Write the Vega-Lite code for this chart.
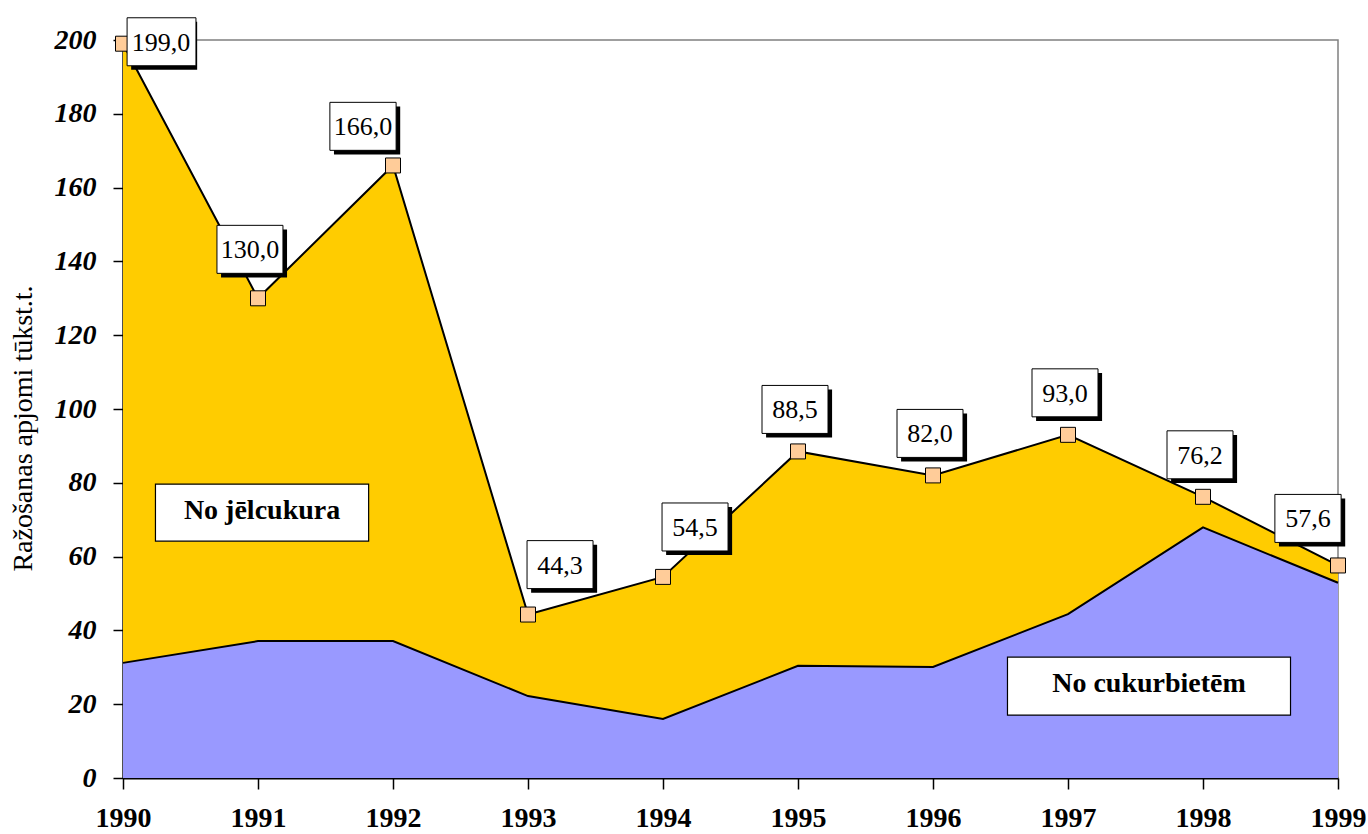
{
  "$schema": "https://vega.github.io/schema/vega-lite/v6.json",
  "width": 1215,
  "height": 738,
  "autosize": {"type": "none"},
  "padding": {"left": 123, "top": 40, "right": 30, "bottom": 56},
  "background": "white",
  "config": {
    "view": {"stroke": "#808080", "strokeWidth": 1.5},
    "font": "'Times New Roman', 'Liberation Serif', Tinos, 'DejaVu Serif', serif"
  },
  "datasets": {
    "main": [
      {"year": 1990, "total": 199.0, "beet": 31.2, "label": "199,0"},
      {"year": 1991, "total": 130.0, "beet": 37.1, "label": "130,0"},
      {"year": 1992, "total": 166.0, "beet": 37.1, "label": "166,0"},
      {"year": 1993, "total": 44.3, "beet": 22.2, "label": "44,3"},
      {"year": 1994, "total": 54.5, "beet": 16.0, "label": "54,5"},
      {"year": 1995, "total": 88.5, "beet": 30.4, "label": "88,5"},
      {"year": 1996, "total": 82.0, "beet": 30.1, "label": "82,0"},
      {"year": 1997, "total": 93.0, "beet": 44.4, "label": "93,0"},
      {"year": 1998, "total": 76.2, "beet": 67.9, "label": "76,2"},
      {"year": 1999, "total": 57.6, "beet": 52.9, "label": "57,6"}
    ],
    "notes": [
      {"year": 1991.03, "value": 71.9, "text": "No jēlcukura"},
      {"year": 1997.6, "value": 24.9, "text": "No cukurbietēm"}
    ]
  },
  "data": {"name": "main"},
  "encoding": {
    "x": {
      "field": "year", "type": "quantitative",
      "scale": {"domain": [1990, 1999], "nice": false, "zero": false},
      "axis": {
        "title": null, "values": [1990,1991,1992,1993,1994,1995,1996,1997,1998,1999],
        "format": "d", "grid": false,
        "domainColor": "black", "domainWidth": 2,
        "tickColor": "black", "tickWidth": 1.5, "tickSize": 11,
        "labelFont": "'Times New Roman', 'Liberation Serif', Tinos, 'DejaVu Serif', serif", "labelFontWeight": "bold", "labelFontSize": 28,
        "labelColor": "black", "labelPadding": 15, "labelFlush": false
      }
    }
  },
  "layer": [
    {
      "mark": {"type": "area", "color": "#FFCC00", "opacity": 1},
      "encoding": {
        "y": {
          "field": "total", "type": "quantitative",
          "scale": {"domain": [0, 200], "nice": false},
          "axis": {
            "title": "Ražošanas apjomi tūkst.t.",
            "titleFont": "'Times New Roman', 'Liberation Serif', Tinos, 'DejaVu Serif', serif", "titleFontWeight": "normal", "titleFontSize": 28,
            "titleColor": "black", "titlePadding": 17, "titleY": 388,
            "values": [0,20,40,60,80,100,120,140,160,180,200],
            "grid": false,
            "domainColor": "black", "domainWidth": 2,
            "tickColor": "black", "tickWidth": 1.5, "tickSize": 10,
            "labelFont": "'Times New Roman', 'Liberation Serif', Tinos, 'DejaVu Serif', serif", "labelFontWeight": "bold", "labelFontStyle": "italic",
            "labelFontSize": 28, "labelColor": "black", "labelPadding": 17
          }
        }
      }
    },
    {
      "mark": {"type": "area", "color": "#9999FF", "opacity": 1},
      "encoding": {"y": {"field": "beet", "type": "quantitative"}}
    },
    {
      "mark": {"type": "line", "color": "black", "strokeWidth": 2},
      "encoding": {"y": {"field": "total", "type": "quantitative"}}
    },
    {
      "mark": {"type": "line", "color": "black", "strokeWidth": 2},
      "encoding": {"y": {"field": "beet", "type": "quantitative"}}
    },
    {
      "mark": {"type": "point", "shape": "square", "size": 225, "filled": true, "fill": "#FFCC99", "stroke": "black", "strokeWidth": 1, "opacity": 1},
      "encoding": {"y": {"field": "total", "type": "quantitative"}}
    },
    {
      "data": {"name": "notes"},
      "encoding": {
        "x": {"field": "year", "type": "quantitative"},
        "y": {"field": "value", "type": "quantitative"}
      },
      "layer": [
        {
          "transform": [{"filter": "datum.text === 'No jēlcukura'"}],
          "mark": {"type": "point", "shape": "M-3.74,-1H3.74V1H-3.74Z", "size": 3249, "filled": true, "fill": "white", "stroke": "black", "strokeWidth": 1.2, "opacity": 1}
        },
        {
          "transform": [{"filter": "datum.text === 'No cukurbietēm'"}],
          "mark": {"type": "point", "shape": "M-4.88,-1H4.88V1H-4.88Z", "size": 3364, "filled": true, "fill": "white", "stroke": "black", "strokeWidth": 1.2, "opacity": 1}
        },
        {
          "mark": {"type": "text", "fontWeight": "bold", "fontSize": 28, "color": "black", "align": "center", "baseline": "middle", "dy": -2},
          "encoding": {"text": {"field": "text"}}
        }
      ]
    },
    {
      "transform": [{"filter": "datum.year === 1990"}],
      "encoding": {"y": {"field": "total", "type": "quantitative"}},
      "layer": [
        {"mark": {"type": "point", "shape": "M0.34,-0.91H3.09V1.09H0.34Z", "size": 2304, "filled": true, "fill": "black", "strokeWidth": 0, "opacity": 1}},
        {"mark": {"type": "point", "shape": "M0.17,-1.08H3.04V0.92H0.17Z", "size": 2304, "filled": true, "fill": "white", "stroke": "black", "strokeWidth": 1, "opacity": 1}},
        {"mark": {"type": "text", "fontSize": 26, "color": "black", "align": "center", "baseline": "middle", "dx": 38, "dy": -1}, "encoding": {"text": {"field": "label"}}}
      ]
    },
    {
      "transform": [{"filter": "datum.year === 1993 || datum.year === 1994"}],
      "encoding": {"y": {"field": "total", "type": "quantitative"}},
      "layer": [
        {"mark": {"type": "point", "shape": "M0.13,-2.91H2.88V-0.91H0.13Z", "size": 2304, "filled": true, "fill": "black", "strokeWidth": 0, "opacity": 1}},
        {"mark": {"type": "point", "shape": "M-0.04,-3.08H2.71V-1.08H-0.04Z", "size": 2304, "filled": true, "fill": "white", "stroke": "black", "strokeWidth": 1, "opacity": 1}},
        {"mark": {"type": "text", "fontSize": 26, "color": "black", "align": "center", "baseline": "middle", "dx": 32, "dy": -49}, "encoding": {"text": {"field": "label"}}}
      ]
    },
    {
      "transform": [{"filter": "datum.year === 1991"}],
      "encoding": {"y": {"field": "total", "type": "quantitative"}},
      "layer": [
        {"mark": {"type": "point", "shape": "M-1.54,-2.87H1.21V-0.87H-1.54Z", "size": 2304, "filled": true, "fill": "black", "strokeWidth": 0, "opacity": 1}},
        {"mark": {"type": "point", "shape": "M-1.71,-3.04H1.04V-1.04H-1.71Z", "size": 2304, "filled": true, "fill": "white", "stroke": "black", "strokeWidth": 1, "opacity": 1}},
        {"mark": {"type": "text", "fontSize": 26, "color": "black", "align": "center", "baseline": "middle", "dx": -8, "dy": -48}, "encoding": {"text": {"field": "label"}}}
      ]
    },
    {
      "transform": [{"filter": "datum.year === 1992"}],
      "encoding": {"y": {"field": "total", "type": "quantitative"}},
      "layer": [
        {"mark": {"type": "point", "shape": "M-2.46,-2.46H0.3V-0.46H-2.46Z", "size": 2304, "filled": true, "fill": "black", "strokeWidth": 0, "opacity": 1}},
        {"mark": {"type": "point", "shape": "M-2.63,-2.63H0.13V-0.63H-2.63Z", "size": 2304, "filled": true, "fill": "white", "stroke": "black", "strokeWidth": 1, "opacity": 1}},
        {"mark": {"type": "text", "fontSize": 26, "color": "black", "align": "center", "baseline": "middle", "dx": -30, "dy": -38}, "encoding": {"text": {"field": "label"}}}
      ]
    },
    {
      "transform": [{"filter": "datum.year >= 1995 && datum.year <= 1998"}],
      "encoding": {"y": {"field": "total", "type": "quantitative"}},
      "layer": [
        {"mark": {"type": "point", "shape": "M-1.33,-2.58H1.42V-0.58H-1.33Z", "size": 2304, "filled": true, "fill": "black", "strokeWidth": 0, "opacity": 1}},
        {"mark": {"type": "point", "shape": "M-1.5,-2.75H1.25V-0.75H-1.5Z", "size": 2304, "filled": true, "fill": "white", "stroke": "black", "strokeWidth": 1, "opacity": 1}},
        {"mark": {"type": "text", "fontSize": 26, "color": "black", "align": "center", "baseline": "middle", "dx": -3, "dy": -41}, "encoding": {"text": {"field": "label"}}}
      ]
    },
    {
      "transform": [{"filter": "datum.year === 1999"}],
      "encoding": {"y": {"field": "total", "type": "quantitative"}},
      "layer": [
        {"mark": {"type": "point", "shape": "M-2.46,-2.79H0.3V-0.79H-2.46Z", "size": 2304, "filled": true, "fill": "black", "strokeWidth": 0, "opacity": 1}},
        {"mark": {"type": "point", "shape": "M-2.63,-2.96H0.13V-0.96H-2.63Z", "size": 2304, "filled": true, "fill": "white", "stroke": "black", "strokeWidth": 1, "opacity": 1}},
        {"mark": {"type": "text", "fontSize": 26, "color": "black", "align": "center", "baseline": "middle", "dx": -30, "dy": -46}, "encoding": {"text": {"field": "label"}}}
      ]
    }
  ]
}
